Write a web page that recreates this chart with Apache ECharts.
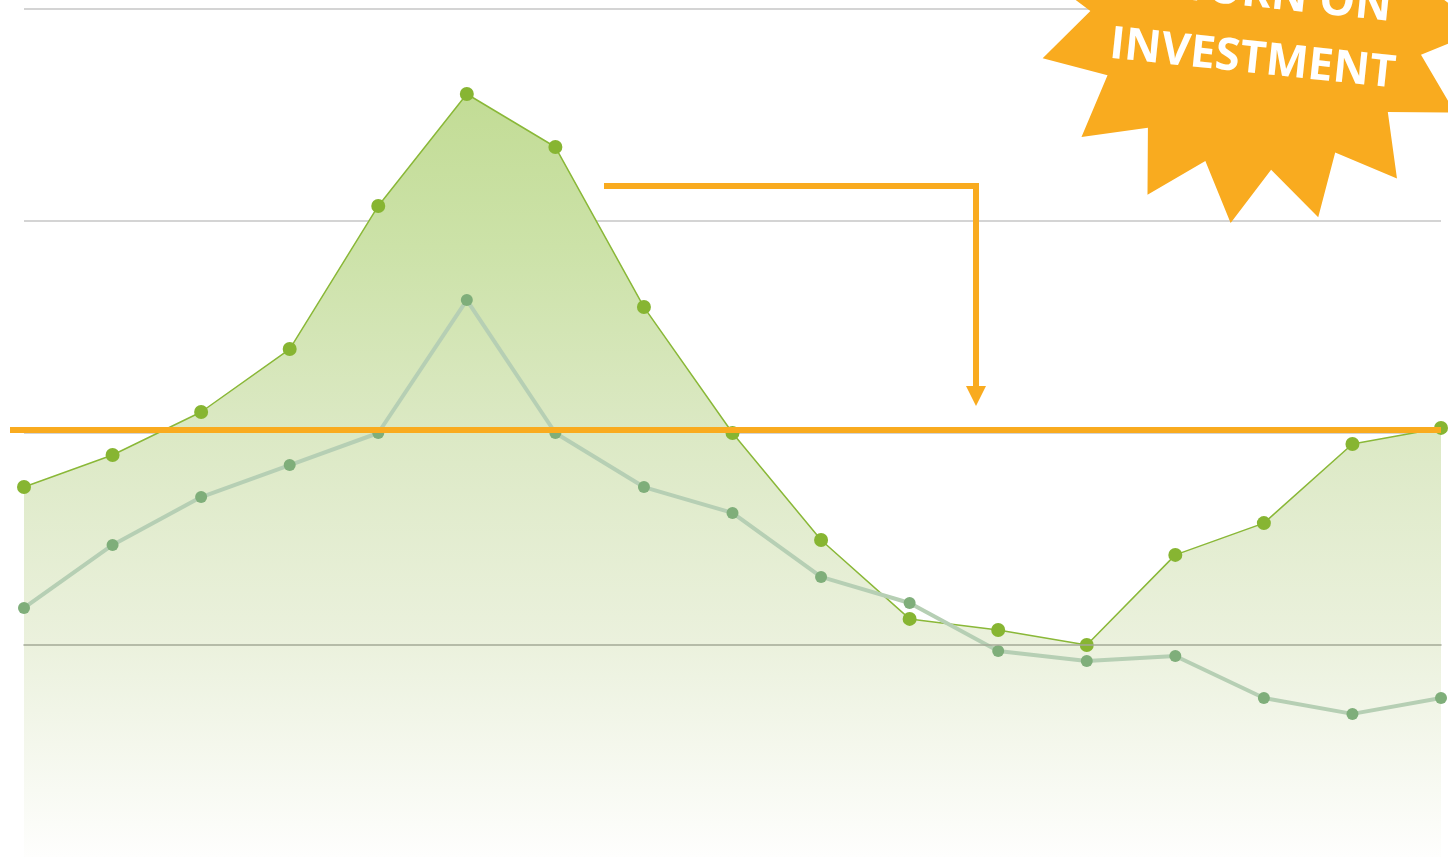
<!DOCTYPE html>
<html>
<head>
<meta charset="utf-8">
<script src="https://cdn.jsdelivr.net/npm/echarts@6/dist/echarts.min.js"></script>
<style>
  html, body { margin: 0; padding: 0; background: #fff; }
  #main { width: 1448px; height: 857px; }
</style>
</head>
<body>
<div id="main"></div>
<script>
// categories (no labels shown in the picture)
var periods = ['1','2','3','4','5','6','7','8','9','10','11','12','13','14','15','16','17']
// green area series
var returns = [0.745, 0.896, 1.099, 1.396, 2.071, 2.599, 2.349, 1.594, 1.0, 0.495, 0.123, 0.071, 0.0, 0.425, 0.575, 0.948, 1.024]
// grey-green line series
var baseline = [0.175, 0.472, 0.698, 0.849, 1.0, 1.627, 1.0, 0.745, 0.623, 0.321, 0.198, -0.028, -0.075, -0.052, -0.25, -0.325, -0.25]
// ROI threshold
var roiLevel = 1.014
var badgeLines = ['RETURN ON', 'INVESTMENT']

var orange = '#f9ab1f'
var myChart = echarts.init(document.getElementById('main'))

var option = {
  animation: false,
  grid: { left: 24, right: 7, top: 9, bottom: 0 },
  xAxis: {
    type: 'category',
    boundaryGap: false,
    data: periods,
    z: 5,
    axisLine: { show: true, onZero: true, lineStyle: { color: '#a4a996', width: 1.5 } },
    axisTick: { show: false },
    axisLabel: { show: false },
    splitLine: { show: false }
  },
  yAxis: {
    type: 'value',
    min: -1,
    max: 3,
    interval: 1,
    axisLine: { show: false },
    axisTick: { show: false },
    axisLabel: { show: false },
    splitLine: { show: true, lineStyle: { color: '#c6c6c6', width: 1.5 } }
  },
  series: [{
    name: 'returns',
    type: 'line',
    data: returns,
    symbol: 'circle',
    symbolSize: 14,
    itemStyle: { color: '#87b532' },
    lineStyle: { color: '#8ab838', width: 1.5 },
    areaStyle: {
      origin: 'start',
      opacity: 1,
      color: new echarts.graphic.LinearGradient(0, 0, 0, 1, [
        { offset: 0, color: '#c2dc95' },
        { offset: 0.2, color: '#cce2a8' },
        { offset: 0.45, color: '#dce9c5' },
        { offset: 0.72, color: '#ebf1dd' },
        { offset: 1, color: '#fefefd' }
      ])
    },
    z: 2
  }, {
    name: 'baseline',
    type: 'line',
    data: baseline,
    symbol: 'circle',
    symbolSize: 12,
    itemStyle: { color: '#7fae7a' },
    lineStyle: { color: '#b6cfb4', width: 4 },
    z: 3
  }]
}

myChart.setOption(option)

// annotations: ROI line, arrow and badge
var roiY = myChart.convertToPixel({ yAxisIndex: 0 }, roiLevel)
var rightX = myChart.convertToPixel({ xAxisIndex: 0 }, periods.length - 1)

// star badge points
var starPts = []
var cx = 1260, cy = 0, rOut = 225, rIn = 170, n = 16
for (var i = 0; i < n * 2; i++) {
  var ang = (165 - i * 11.25) * Math.PI / 180
  var r = i % 2 === 0 ? rOut : rIn
  starPts.push([cx + r * Math.cos(ang), cy + r * Math.sin(ang)])
}

myChart.setOption({
  graphic: [{
    type: 'line',
    shape: { x1: 10, y1: roiY, x2: rightX, y2: roiY },
    style: { stroke: orange, lineWidth: 6 },
    z: 10
  }, {
    type: 'polyline',
    shape: { points: [[604, 186], [976, 186], [976, 390]] },
    style: { stroke: orange, lineWidth: 6, fill: null },
    z: 10
  }, {
    type: 'polygon',
    shape: { points: [[966, 386], [986, 386], [976, 406]] },
    style: { fill: orange },
    z: 10
  }, {
    type: 'polygon',
    shape: { points: starPts },
    style: { fill: orange },
    z: 11
  }, {
    type: 'text',
    x: 1256,
    y: 27,
    rotation: -0.105,
    style: {
      text: badgeLines.join('\n'),
      fill: '#ffffff',
      font: 'bold 45px "Open Sans", sans-serif',
      align: 'center',
      verticalAlign: 'middle',
      lineHeight: 66
    },
    z: 12
  }]
})
</script>
</body>
</html>
